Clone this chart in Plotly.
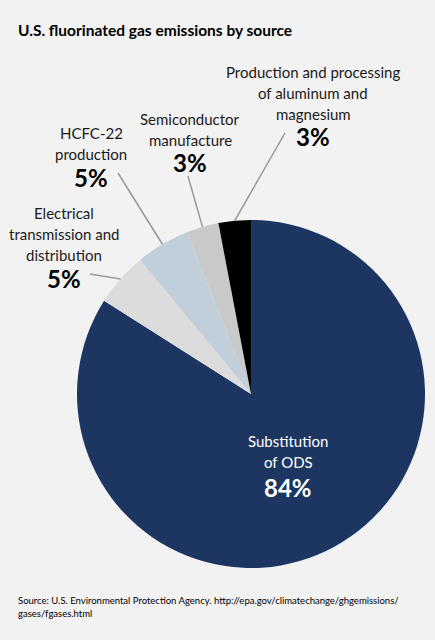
import math
import plotly.graph_objects as go

# data
sources = [["Substitution", "of ODS"],
           ["Electrical", "transmission and", "distribution"],
           ["HCFC-22", "production"],
           ["Semiconductor", "manufacture"],
           ["Production and processing", "of aluminum and", "magnesium"]]
shares = [84, 5, 5, 3, 3]
share_labels = ["84%", "5%", "5%", "3%", "3%"]

slice_colors = ["#1c3661", "#dcdcdc", "#c1cfdb", "#c9c9c9", "#000000"]

W, H = 435, 640
FONT = "Lato"
cx, cy, r = 251, 394, 174  # pie centre / radius in pixels
LINE = 21  # line spacing of label text, px

fig = go.Figure()
fig.add_trace(go.Pie(
    labels=[" ".join(s) for s in sources],
    values=shares,
    sort=False,
    direction="clockwise",
    rotation=0,
    marker=dict(colors=slice_colors, line=dict(width=0)),
    textinfo="none",
    hoverinfo="label+percent",
    showlegend=False,
    domain=dict(x=[(cx - r) / W, (cx + r) / W], y=[(H - cy - r) / H, (H - cy + r) / H]),
))

# first label line centre and percent centre (pixels), leader line outer ends
label_top = [(288, 441), (64, 213), (91, 133), (190, 119), (313, 72)]
pct_pos = [(288, 487), (64, 278), (91, 177), (190, 163), (313, 136)]
leader_end = [None, (90, 274), (118, 173), (188, 176), (285, 133)]

total = sum(shares)
cum = 0
for i, v in enumerate(shares):
    mid = 2 * math.pi * (cum + v / 2) / total
    cum += v
    txt_color = "white" if i == 0 else "#1a1a1a"
    lx, ly = label_top[i]
    for k, line in enumerate(sources[i]):
        fig.add_annotation(x=lx / W, y=1 - (ly + k * LINE) / H, xref="paper", yref="paper",
                           text=line, showarrow=False,
                           xanchor="center", yanchor="middle",
                           font=dict(family=FONT, size=15, color=txt_color))
    px, py = pct_pos[i]
    fig.add_annotation(x=px / W, y=1 - py / H, xref="paper", yref="paper",
                       text="<b>%s</b>" % share_labels[i], showarrow=False,
                       xanchor="center", yanchor="middle",
                       font=dict(family=FONT, size=24, color="white" if i == 0 else "black"))
    if leader_end[i] is not None:
        ex = cx + r * math.sin(mid)
        ey = cy - r * math.cos(mid)
        ox, oy = leader_end[i]
        fig.add_shape(type="line", xref="paper", yref="paper",
                      x0=ex / W, y0=1 - ey / H, x1=ox / W, y1=1 - oy / H,
                      line=dict(color="#999999", width=1.5))

fig.add_annotation(x=16 / W, y=1 - 30 / H, xref="paper", yref="paper",
                   text="<b>U.S. fluorinated gas emissions by source</b>", showarrow=False,
                   xanchor="left", yanchor="middle",
                   font=dict(family=FONT, size=15.5, color="black"))
fig.add_annotation(x=16 / W, y=1 - 600 / H, xref="paper", yref="paper",
                   text="Source: U.S. Environmental Protection Agency. http://epa.gov/climatechange/ghgemissions/",
                   showarrow=False, xanchor="left", yanchor="middle",
                   font=dict(family=FONT, size=9.5, color="black"))
fig.add_annotation(x=16 / W, y=1 - 613 / H, xref="paper", yref="paper",
                   text="gases/fgases.html",
                   showarrow=False, xanchor="left", yanchor="middle",
                   font=dict(family=FONT, size=9.5, color="black"))

fig.update_layout(width=W, height=H, margin=dict(l=0, r=0, t=0, b=0),
                  paper_bgcolor="#f2f2f2", plot_bgcolor="#f2f2f2")

fig.write_html("out.html", config={"displayModeBar": False},
               post_script="document.body.style.margin='0';")
